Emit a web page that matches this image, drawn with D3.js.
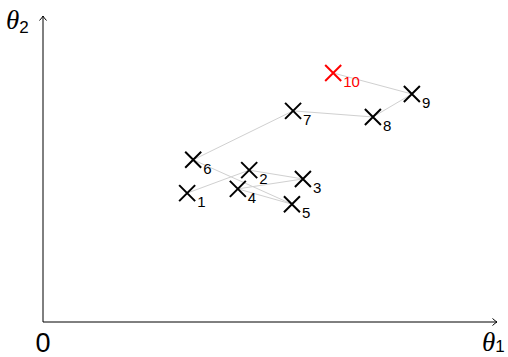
<!DOCTYPE html>
<html>
<head>
<meta charset="utf-8">
<script src="https://cdn.jsdelivr.net/npm/d3@7"></script>
<style>
	body { margin: 0; background: #fff; }
	svg { display: block; }
</style>
</head>
<body>
<div id="chart"></div>
<script>
// iterate labels and their (theta1, theta2) positions
const labels = ['1', '2', '3', '4', '5', '6', '7', '8', '9', '10'];
const theta1 = [3.81, 5.45, 6.87, 5.15, 6.58, 3.97, 6.61, 8.72, 9.75, 7.67];
const theta2 = [3.37, 3.97, 3.74, 3.48, 3.08, 4.24, 5.52, 5.36, 5.96, 6.51];
const highlight = '10'; // last iterate, drawn in red

const w = 508;
const h = 357;

const data = labels.map((l, i) => ({label: l, x: theta1[i], y: theta2[i]}));

const x = d3.scaleLinear().domain([0, 12]).range([43, 497]);
const y = d3.scaleLinear().domain([0, 8]).range([322, 16]);

const svg = d3.select('#chart').append('svg')
	.attr('width', w)
	.attr('height', h);

// open arrow head like tikz "->"
svg.append('defs').append('marker')
	.attr('id', 'arrow')
	.attr('viewBox', '-6 -5 8 10')
	.attr('refX', 0)
	.attr('refY', 0)
	.attr('markerUnits', 'userSpaceOnUse')
	.attr('markerWidth', 8)
	.attr('markerHeight', 10)
	.attr('orient', 'auto')
	.append('path')
	.attr('d', 'M-4.5,-3.5 Q-1.5,-0.8 0,0 Q-1.5,0.8 -4.5,3.5')
	.attr('fill', 'none')
	.attr('stroke', '#000')
	.attr('stroke-width', 1);

// axes
svg.append('line')
	.attr('x1', x(0)).attr('y1', y(0))
	.attr('x2', x(12)).attr('y2', y(0))
	.attr('stroke', '#000')
	.attr('stroke-width', 1)
	.attr('marker-end', 'url(#arrow)');
svg.append('line')
	.attr('x1', x(0)).attr('y1', y(0))
	.attr('x2', x(0)).attr('y2', y(8))
	.attr('stroke', '#000')
	.attr('stroke-width', 1)
	.attr('marker-end', 'url(#arrow)');

svg.append('text')
	.attr('x', x(0))
	.attr('y', 352)
	.attr('text-anchor', 'middle')
	.style('font-family', 'Liberation Sans, sans-serif')
	.style('font-size', '27px')
	.text('0');

function thetaLabel(px, py, sub, subDy){
	const t = svg.append('text')
		.attr('x', px)
		.attr('y', py)
		.style('font-size', '27px');
	t.append('tspan')
		.style('font-family', 'Liberation Serif, serif')
		.style('font-style', 'italic')
		.text('θ');
	t.append('tspan')
		.attr('dy', subDy)
		.style('font-family', 'Liberation Sans, sans-serif')
		.style('font-size', '17px')
		.text(sub);
}
thetaLabel(482, 351, '1', 1);
thetaLabel(6, 29, '2', 4);

// path connecting iterates
const line = d3.line().x(d => x(d.x)).y(d => y(d.y));
svg.append('path')
	.datum(data)
	.attr('d', line)
	.attr('fill', 'none')
	.attr('stroke', '#d0d0d0')
	.attr('stroke-width', 1);

// x markers
const s = 8;
const nodes = svg.selectAll('.node')
	.data(data)
	.enter()
	.append('g')
	.attr('class', 'node')
	.attr('transform', d => `translate(${x(d.x)}, ${y(d.y)})`);

nodes.append('path')
	.attr('d', `M${-s},${-s}L${s},${s}M${-s},${s}L${s},${-s}`)
	.attr('stroke', d => d.label === highlight ? '#ff0000' : '#000')
	.attr('stroke-width', 2)
	.attr('fill', 'none');

nodes.append('text')
	.attr('x', 10)
	.attr('y', 14)
	.style('font-family', 'Liberation Sans, sans-serif')
	.style('font-size', '15px')
	.attr('fill', d => d.label === highlight ? '#ff0000' : '#000')
	.text(d => d.label);
</script>
</body>
</html>
